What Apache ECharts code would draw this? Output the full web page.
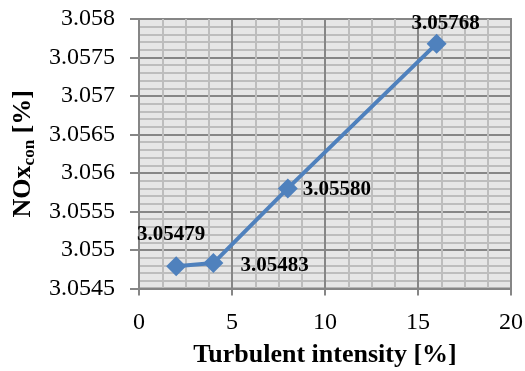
<!DOCTYPE html>
<html>
<head>
<meta charset="utf-8">
<script src="https://cdn.jsdelivr.net/npm/echarts@6/dist/echarts.min.js"></script>
<style>
  html, body { margin: 0; padding: 0; background: #fff; }
  #chart { width: 525px; height: 371px; }
</style>
</head>
<body>
<div id="chart"></div>
<script>
// Turbulent intensity [%] and the resulting NOx concentration [%]
const intensity = [2, 4, 8, 16];
const noxValues = [3.05479, 3.05483, 3.05580, 3.05768];
const labelTexts = ['3.05479', '3.05483', '3.05580', '3.05768'];

const xTicks = { min: 0, max: 20, step: 5 };
const yTicks = { min: 3.0545, max: 3.058, step: 0.0005 };

// per-point label placement
const labelPlacement = [
  { position: 'top', distance: 11, offset: [-5, 0] },
  { position: 'right', distance: 17, offset: [0, 2] },
  { position: 'right', distance: 5, offset: [0, 1] },
  { position: 'top', distance: 0, offset: [9, 0] }
];

const serif = '"Liberation Serif", "Times New Roman", serif';
const blue = '#4F81BD';

const points = intensity.map((x, i) => ({
  value: [x, noxValues[i]],
  label: Object.assign({
    show: true,
    formatter: labelTexts[i],
    fontFamily: serif,
    fontWeight: 'bold',
    fontSize: 21,
    color: '#000'
  }, labelPlacement[i])
}));

const chart = echarts.init(document.getElementById('chart'), null, { renderer: 'canvas' });
chart.setOption({
  animation: false,
  grid: {
    left: 139, right: 14, top: 19, bottom: 82.5,
    outerBoundsMode: 'none',
    containLabel: false,
    show: true,
    backgroundColor: '#e6e6e6',
    borderColor: '#868686',
    borderWidth: 2
  },
  xAxis: {
    type: 'value',
    min: xTicks.min, max: xTicks.max, interval: xTicks.step,
    name: 'Turbulent intensity [%]',
    nameLocation: 'middle',
    nameGap: 54,
    nameTextStyle: { fontFamily: serif, fontWeight: 'bold', fontSize: 26, color: '#000' },
    axisLine: { show: true, lineStyle: { color: '#868686', width: 2 } },
    axisTick: { show: true, length: 7, lineStyle: { color: '#868686', width: 2 } },
    axisLabel: { fontFamily: serif, fontSize: 24, color: '#000', margin: 22 },
    splitLine: { show: true, lineStyle: { color: '#868686', width: 2 } },
    minorTick: { show: false, splitNumber: 4 },
    minorSplitLine: { show: true, lineStyle: { color: '#bdbdbd', width: 2 } }
  },
  yAxis: {
    type: 'value',
    min: yTicks.min, max: yTicks.max, interval: yTicks.step,
    name: '{a|NOx}{b|con}{a| [%]}',
    nameLocation: 'middle',
    nameGap: 100,
    nameRotate: 90,
    nameTextStyle: {
      rich: {
        a: { fontFamily: serif, fontWeight: 'bold', fontSize: 26, color: '#000' },
        b: { fontFamily: serif, fontWeight: 'bold', fontSize: 17, color: '#000', padding: [12, 0, 0, 0] }
      }
    },
    axisLine: { show: true, lineStyle: { color: '#868686', width: 2 } },
    axisTick: { show: true, length: 9, lineStyle: { color: '#868686', width: 2 } },
    axisLabel: {
      fontFamily: serif, fontSize: 24, color: '#000', margin: 24,
      formatter: v => String(parseFloat(v.toFixed(4)))
    },
    splitLine: { show: true, lineStyle: { color: '#868686', width: 2 } },
    minorTick: { show: false, splitNumber: 5 },
    minorSplitLine: { show: true, lineStyle: { color: '#bdbdbd', width: 2 } }
  },
  series: [{
    type: 'line',
    data: points,
    symbol: 'diamond',
    symbolSize: 20,
    lineStyle: { color: blue, width: 4 },
    itemStyle: { color: blue },
    z: 5
  }]
});
</script>
</body>
</html>
